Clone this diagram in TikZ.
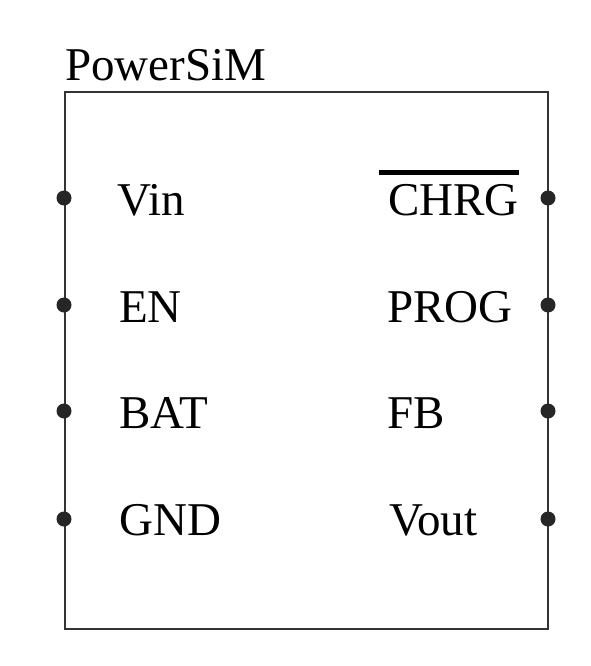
\documentclass[tikz,border=0pt]{standalone}
\usepackage{fontspec}
\setmainfont{Liberation Serif}
\begin{document}
\begin{tikzpicture}[x=1pt,y=1pt,
  lbl/.style={inner sep=0pt,anchor=base west,font=\fontsize{47}{56}\selectfont,text=black},
  pindot/.style={circle,fill=black!85,inner sep=0pt,minimum size=15pt},
  chipbox/.style={draw=black!80,line width=1.8pt,inner sep=0pt,minimum width=483pt,minimum height=537pt}]
\useasboundingbox[fill=white] (0,0) rectangle (591,-666);
\node[chipbox] (chip) at (306.5,-360.5) {};
\node[lbl] (title) at (65,-81) {PowerSiM};
% left pins
\node[pindot] (p1) at (64,-198) {};
\node[pindot] (p2) at (64,-305) {};
\node[pindot] (p3) at (64,-411) {};
\node[pindot] (p4) at (64,-519) {};
\node[lbl] (vin) at (117,-215) {Vin};
\node[lbl] (en)  at (119,-322) {EN};
\node[lbl] (bat) at (119,-428) {BAT};
\node[lbl] (gnd) at (119,-535) {GND};
% right pins
\node[pindot] (q1) at (548,-198) {};
\node[pindot] (q2) at (548,-305) {};
\node[pindot] (q3) at (548,-411) {};
\node[pindot] (q4) at (548,-519) {};
\node[lbl] (chrg) at (388,-215) {CHRG};
\node[lbl] (prog) at (387,-322) {PROG};
\node[lbl] (fb)   at (387,-428) {FB};
\node[lbl] (vout) at (389,-535) {Vout};
\draw[line width=5pt] ([xshift=-9pt,yshift=43pt]chrg.base west) -- ([yshift=43pt]chrg.base east);
\end{tikzpicture}
\end{document}
